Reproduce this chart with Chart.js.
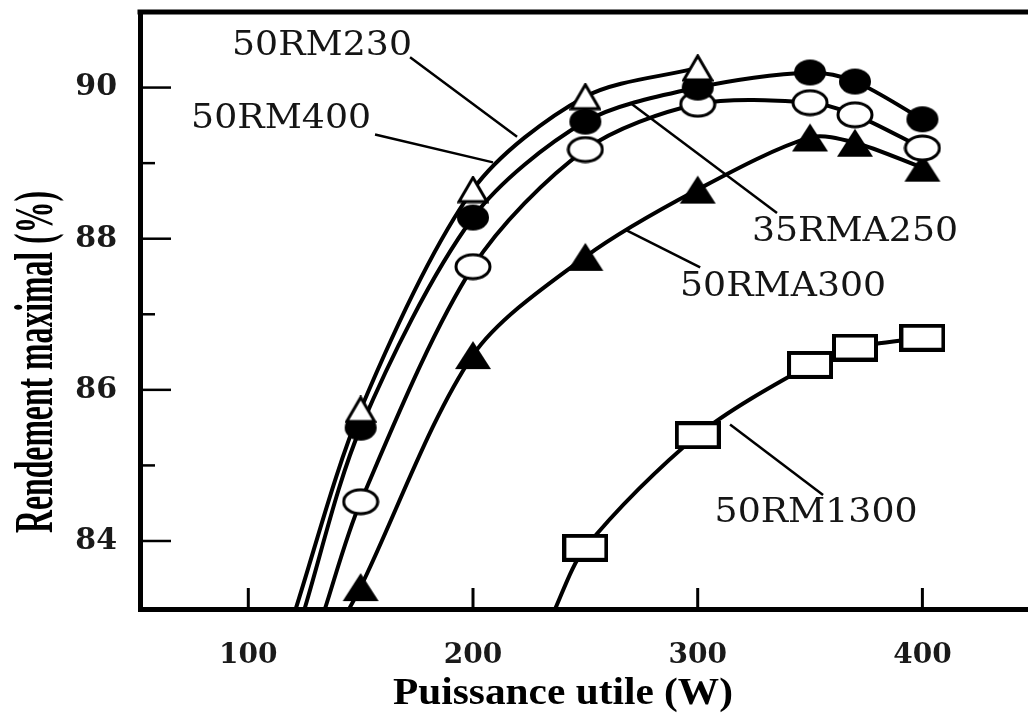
<!DOCTYPE html>
<html>
<head>
<meta charset="utf-8">
<script src="https://cdn.jsdelivr.net/npm/chart.js@4.4.1/dist/chart.umd.min.js"></script>
<style>
  html, body { margin: 0; padding: 0; background: #fff; }
</style>
</head>
<body>
<canvas id="myChart" width="1028" height="713"></canvas>
<script>
// Puissance utile (W) / rendement (%).
// first point of each series = where the curve leaves the frame at the bottom
const rm230X  = [120, 150, 200, 250, 300];
const rm230Y  = [83.0, 85.74, 88.65, 89.88, 90.26];
const rm400X  = [124, 150, 200, 250, 300, 350, 370, 400];
const rm400Y  = [83.0, 85.50, 88.28, 89.55, 90.00, 90.20, 90.08, 89.58];
const rma250X = [133, 150, 200, 250, 300, 350, 370, 400];
const rma250Y = [83.0, 84.52, 87.63, 89.18, 89.78, 89.80, 89.64, 89.20];
const rma300X = [143, 150, 200, 250, 300, 350, 370, 400];
const rma300Y = [83.0, 83.39, 86.46, 87.76, 88.65, 89.34, 89.27, 88.94];
const rm1300X = [235, 250, 300, 350, 370, 400];
const rm1300Y = [83.0, 83.91, 85.40, 86.33, 86.56, 86.69];

const seriesNames = ['50RM230', '50RM400', '35RMA250', '50RMA300', '50RM1300'];
const xTicks = [100, 200, 300, 400];
const yTicks = [84, 86, 88, 90];
const yMinor = [85, 87, 89];

// label + leader line positions, in axis units
const notes = [
  { tx: 132.8, ty: 90.54, x1: 172.0, y1: 90.40, x2: 219.6, y2: 89.35 },
  { tx: 114.6, ty: 89.58, x1: 156.4, y1: 89.38, x2: 208.9, y2: 89.01 },
  { tx: 370.0, ty: 88.08, x1: 335.3, y1: 88.34, x2: 269.9, y2: 89.80 },
  { tx: 338.0, ty: 87.36, x1: 301.1, y1: 87.62, x2: 267.7, y2: 88.12 },
  { tx: 352.7, ty: 84.37, x1: 355.8, y1: 84.61, x2: 314.4, y2: 85.54 }
];

function marker(w, h, draw) {
  const c = document.createElement('canvas');
  c.width = w; c.height = h;
  const g = c.getContext('2d');
  g.strokeStyle = '#000';
  g.fillStyle = '#000';
  draw(g, w, h);
  return c;
}

const openTri = marker(32, 28, function(g, w, h) {
  g.beginPath(); g.moveTo(w / 2, 2); g.lineTo(w - 2, h - 2); g.lineTo(2, h - 2); g.closePath();
  g.fillStyle = '#fff'; g.fill(); g.lineWidth = 3; g.stroke();
});
const fullCircle = marker(34, 28, function(g, w, h) {
  g.beginPath(); g.ellipse(w / 2, h / 2, w / 2 - 1, h / 2 - 1, 0, 0, Math.PI * 2); g.fill();
});
const openCircle = marker(38, 28, function(g, w, h) {
  g.beginPath(); g.ellipse(w / 2, h / 2, w / 2 - 2, h / 2 - 2, 0, 0, Math.PI * 2);
  g.fillStyle = '#fff'; g.fill(); g.lineWidth = 3; g.stroke();
});
const fullTri = marker(38, 30, function(g, w, h) {
  g.beginPath(); g.moveTo(w / 2, 1); g.lineTo(w - 1, h - 1); g.lineTo(1, h - 1); g.closePath(); g.fill();
});
const openSquare = marker(46, 28, function(g, w, h) {
  g.fillStyle = '#fff'; g.fillRect(2, 2, w - 4, h - 4);
  g.lineWidth = 4; g.strokeRect(2, 2, w - 4, h - 4);
});

function pts(xs, ys) {
  return xs.map(function(x, i) { return { x: x, y: ys[i] }; });
}
function radii(n) {
  // no marker on the exit point
  return Array.from({ length: n }, function(_, i) { return i === 0 ? 0 : 14; });
}
function series(name, xs, ys, style) {
  return {
    label: name,
    data: pts(xs, ys),
    borderColor: '#000',
    borderWidth: 4,
    tension: 0.3,
    pointStyle: style,
    pointRadius: radii(xs.length),
    fill: false
  };
}

const frame = {
  id: 'frame',
  afterDraw: function(chart) {
    const c = chart.ctx, a = chart.chartArea;
    const sx = chart.scales.x, sy = chart.scales.y;
    c.save();
    c.fillStyle = '#000';
    c.fillRect(a.left - 2.5, a.top - 2.5, a.right - a.left + 3, 5);

    c.strokeStyle = '#000';
    c.lineWidth = 3;
    xTicks.forEach(function(v) {
      const p = sx.getPixelForValue(v);
      c.beginPath(); c.moveTo(p, a.bottom); c.lineTo(p, a.bottom - 21); c.stroke();
    });
    c.lineWidth = 2.5;
    yTicks.forEach(function(v) {
      const p = sy.getPixelForValue(v);
      c.beginPath(); c.moveTo(a.left, p); c.lineTo(a.left + 31, p); c.stroke();
    });
    yMinor.forEach(function(v) {
      const p = sy.getPixelForValue(v);
      c.beginPath(); c.moveTo(a.left, p); c.lineTo(a.left + 15, p); c.stroke();
    });

    // leader lines and series names
    c.lineWidth = 2.5;
    c.fillStyle = '#151515';
    c.font = '33px "DejaVu Serif"';
    c.textAlign = 'center';
    c.textBaseline = 'middle';
    notes.forEach(function(n, i) {
      c.beginPath();
      c.moveTo(sx.getPixelForValue(n.x1), sy.getPixelForValue(n.y1));
      c.lineTo(sx.getPixelForValue(n.x2), sy.getPixelForValue(n.y2));
      c.stroke();
      c.save();
      c.translate(sx.getPixelForValue(n.tx), sy.getPixelForValue(n.ty));
      c.scale(1.1, 1);
      c.fillText(seriesNames[i], 0, 0);
      c.restore();
    });

    // axis titles, squeezed like the scan
    c.fillStyle = '#000';
    c.textBaseline = 'alphabetic';
    c.font = 'bold 38px "Liberation Serif"';
    let w = c.measureText('Puissance utile (W)').width;
    c.save();
    c.translate(563, 704);
    c.scale(340 / w, 1);
    c.fillText('Puissance utile (W)', 0, 0);
    c.restore();

    c.font = 'bold 54px "Liberation Serif"';
    w = c.measureText('Rendement maximal (%)').width;
    c.save();
    c.translate(52, 362);
    c.rotate(-Math.PI / 2);
    c.scale(342 / w, 1);
    c.fillText('Rendement maximal (%)', 0, 0);
    c.restore();
    c.restore();
  }
};

const ctx = document.getElementById('myChart');

new Chart(ctx, {
  type: 'line',
  data: {
    datasets: [
      series(seriesNames[0], rm230X, rm230Y, openTri),
      series(seriesNames[1], rm400X, rm400Y, fullCircle),
      series(seriesNames[2], rma250X, rma250Y, openCircle),
      series(seriesNames[3], rma300X, rma300Y, fullTri),
      series(seriesNames[4], rm1300X, rm1300Y, openSquare)
    ]
  },
  options: {
    responsive: false,
    animation: false,
    devicePixelRatio: 1,
    layout: { autoPadding: false, padding: { top: 12, left: 0, right: 0, bottom: 0 } },
    plugins: {
      legend: { display: false },
      tooltip: { enabled: false }
    },
    scales: {
      x: {
        type: 'linear',
        min: 51.8,
        max: 447,
        afterBuildTicks: function(s) { s.ticks = xTicks.map(function(v) { return { value: v }; }); },
        afterFit: function(s) { s.height = 104; s.paddingLeft = 0; s.paddingRight = 0; },
        grid: { display: false, drawTicks: false },
        border: { display: true, width: 5, color: '#000' },
        ticks: {
          color: '#1a1a1a',
          padding: 30,
          maxRotation: 0,
          font: { family: 'DejaVu Serif', size: 28, weight: 'bold' }
        }
      },
      y: {
        min: 83.1,
        max: 91.0,
        afterBuildTicks: function(s) { s.ticks = yTicks.map(function(v) { return { value: v }; }); },
        afterFit: function(s) { s.width = 140; s.paddingTop = 0; s.paddingBottom = 0; },
        grid: { display: false, drawTicks: false },
        border: { display: true, width: 5, color: '#000' },
        ticks: {
          color: '#1a1a1a',
          padding: 23,
          font: { family: 'DejaVu Serif', size: 30, weight: 'bold' }
        }
      }
    }
  },
  plugins: [frame]
});
</script>
</body>
</html>
